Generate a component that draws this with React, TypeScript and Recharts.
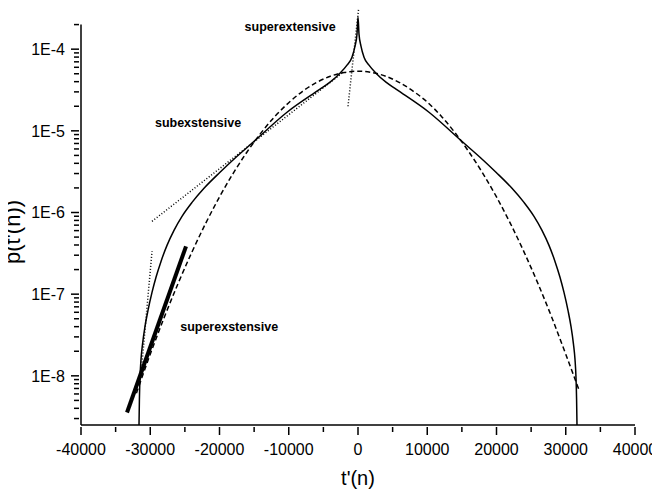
import React from "react";
import { LineChart, Line, XAxis, YAxis, ReferenceLine, ReferenceDot } from "recharts";

// [t'(n), p] pairs
const solidCurve: [number, number][] = [
  [-31624, 2.5e-9], [-31566, 5.1e-9], [-31480, 9.5e-9], [-31335, 1.59e-8],
  [-31118, 2.43e-8], [-30757, 4.03e-8], [-30324, 6.33e-8], [-29746, 1.05e-7],
  [-29169, 1.61e-7], [-28447, 2.52e-7], [-27580, 3.96e-7], [-26570, 6.05e-7],
  [-25414, 8.98e-7], [-23970, 1.33e-6], [-22238, 1.98e-6], [-19927, 3.11e-6],
  [-17617, 4.75e-6], [-15162, 7.24e-6], [-10250, 1.69e-5], [-5490, 3.24e-5],
  [-4040, 3.94e-5], [-2600, 5.08e-5], [-1590, 6.37e-5], [-870, 7.97e-5],
  [-430, 1.09e-4], [-144, 1.53e-4], [0, 2.47e-4],
  [144, 1.53e-4], [430, 1.09e-4], [870, 7.97e-5], [1590, 6.37e-5],
  [2600, 5.08e-5], [4040, 3.94e-5], [5490, 3.24e-5], [10250, 1.69e-5],
  [15162, 7.24e-6], [17617, 4.75e-6], [19927, 3.11e-6], [22238, 1.98e-6],
  [23970, 1.33e-6], [25414, 8.98e-7], [26570, 6.05e-7], [27580, 3.96e-7],
  [28447, 2.52e-7], [29169, 1.61e-7], [29746, 1.05e-7], [30324, 6.33e-8],
  [30757, 4.03e-8], [31118, 2.43e-8], [31335, 1.59e-8], [31480, 9.5e-9],
  [31566, 5.1e-9], [31624, 2.5e-9],
];

const dashedCurve: [number, number][] = [
  [-32000, 6.1e-9], [-30000, 1.84e-8], [-28000, 5.15e-8], [-26000, 1.34e-7],
  [-24000, 3.25e-7], [-22000, 7.36e-7], [-20000, 1.55e-6], [-18000, 3.04e-6],
  [-16000, 5.55e-6], [-14000, 9.45e-6], [-12000, 1.5e-5], [-10000, 2.21e-5],
  [-8000, 3.05e-5], [-6000, 3.9e-5], [-4000, 4.66e-5], [-2000, 5.18e-5],
  [0, 5.37e-5], [2000, 5.18e-5], [4000, 4.66e-5], [6000, 3.9e-5],
  [8000, 3.05e-5], [10000, 2.25e-5], [12000, 1.52e-5], [14000, 9.5e-6],
  [16000, 5.55e-6], [18000, 3.04e-6], [20000, 1.55e-6], [22000, 7.36e-7],
  [24000, 3.25e-7], [26000, 1.34e-7], [28000, 5.15e-8], [30000, 1.84e-8],
  [32000, 6.4e-9],
];

// dotted tangents
const peakTangent: [number, number][] = [[-1444, 2.0e-5], [144, 3.46e-4]];
const bodyTangent: [number, number][] = [[-29746, 7.8e-7], [-2310, 5.08e-5]];
const tailTangent: [number, number][] = [[-31335, 1.04e-8], [-29746, 3.35e-7]];

// thick fit line on the left tail
const tailFit: [number, number][] = [[-33356, 3.56e-9], [-24837, 3.85e-7]];

const xTicks = [-40000, -35000, -30000, -25000, -20000, -15000, -10000, -5000, 0,
  5000, 10000, 15000, 20000, 25000, 30000, 35000, 40000];

const yMajor = [1e-8, 1e-7, 1e-6, 1e-5, 1e-4];
const yMajorLabels = ["1E-8", "1E-7", "1E-6", "1E-5", "1E-4"];
const yMinor = [
  3e-9, 4e-9, 5e-9, 6e-9, 7e-9, 8e-9, 9e-9,
  2e-8, 3e-8, 4e-8, 5e-8, 6e-8, 7e-8, 8e-8, 9e-8,
  2e-7, 3e-7, 4e-7, 5e-7, 6e-7, 7e-7, 8e-7, 9e-7,
  2e-6, 3e-6, 4e-6, 5e-6, 6e-6, 7e-6, 8e-6, 9e-6,
  2e-5, 3e-5, 4e-5, 5e-5, 6e-5, 7e-5, 8e-5, 9e-5,
  2e-4,
];

const toRows = (pts: [number, number][]) => pts.map(([t, p]) => ({ t, p }));

const FONT = "'Liberation Sans', Arial, sans-serif";

const XTick = (props: any) => {
  const { x, y, payload } = props;
  const major = payload.value % 10000 === 0;
  return (
    <g>
      <line x1={x} x2={x} y1={y} y2={y + (major ? 8 : 5)} stroke="#000" strokeWidth={1.5} />
      {major && (
        <text x={x} y={y + 28} textAnchor="middle" fontSize={16} fontFamily={FONT} fill="#000">
          {payload.value}
        </text>
      )}
    </g>
  );
};

const YTick = (props: any) => {
  const { x, y, payload } = props;
  const idx = yMajor.findIndex((v) => Math.abs(Math.log10(v) - Math.log10(payload.value)) < 1e-6);
  const major = idx >= 0;
  return (
    <g>
      <line x1={x} x2={x - (major ? 8 : 5)} y1={y} y2={y} stroke="#000" strokeWidth={1.5} />
      {major && (
        <text x={x - 14} y={y} dy="0.36em" textAnchor="end" fontSize={16} fontFamily={FONT} fill="#000">
          {yMajorLabels[idx]}
        </text>
      )}
    </g>
  );
};

const note = (value: string) => ({
  value,
  position: "center" as const,
  fill: "#000",
  fontSize: 12.5,
  fontWeight: "bold",
  fontFamily: FONT,
});

export default function App() {
  return (
    <div style={{ margin: "-8px 0 0 -8px", background: "#fff", width: 660, height: 492 }}>
      <LineChart width={660} height={492} margin={{ top: 0, right: 25, bottom: 0, left: 0 }}>
        <XAxis
          dataKey="t"
          type="number"
          domain={[-40000, 40000]}
          ticks={xTicks}
          interval={0}
          height={67}
          tickSize={0}
          tickLine={false}
          axisLine={{ stroke: "#000", strokeWidth: 1.5 }}
          tick={(p: any) => <XTick {...p} />}
          label={{
            value: "t'(n)",
            position: "insideBottom",
            offset: 7,
            fontSize: 20,
            fontFamily: FONT,
            fill: "#000",
          }}
        />
        <YAxis
          dataKey="p"
          type="number"
          scale="log"
          domain={[2.5e-9, 4e-4]}
          ticks={[...yMinor, ...yMajor].sort((a, b) => a - b)}
          interval={0}
          width={81}
          tickSize={0}
          tickLine={false}
          axisLine={false}
          tick={(p: any) => <YTick {...p} />}
          label={{
            content: (lp: any) => {
              const vb = lp.viewBox;
              const cx = vb.x + 20;
              const cy = 232;
              return (
                <text
                  x={0}
                  y={0}
                  transform={`translate(${cx},${cy}) rotate(-90)`}
                  textAnchor="middle"
                  fontSize={22}
                  fontFamily={FONT}
                  fill="#000"
                >
                  p(t'(n))
                </text>
              );
            },
          }}
        />
        <ReferenceLine
          segment={[{ x: -40000, y: 2.5e-9 }, { x: -40000, y: 2e-4 }]}
          stroke="#000"
          strokeWidth={1.5}
          ifOverflow="visible"
        />
        <Line data={toRows(solidCurve)} dataKey="p" type="monotone" stroke="#000" strokeWidth={1.5} dot={false} isAnimationActive={false} />
        <Line data={toRows(dashedCurve)} dataKey="p" type="monotone" stroke="#000" strokeWidth={1.5} strokeDasharray="5 3" dot={false} isAnimationActive={false} />
        <Line data={toRows(peakTangent)} dataKey="p" type="linear" stroke="#000" strokeWidth={1.5} strokeDasharray="1 2" dot={false} isAnimationActive={false} />
        <Line data={toRows(bodyTangent)} dataKey="p" type="linear" stroke="#000" strokeWidth={1.5} strokeDasharray="1 2" dot={false} isAnimationActive={false} />
        <Line data={toRows(tailTangent)} dataKey="p" type="linear" stroke="#000" strokeWidth={1.5} strokeDasharray="1 2" dot={false} isAnimationActive={false} />
        <Line data={toRows(tailFit)} dataKey="p" type="linear" stroke="#000" strokeWidth={4} dot={false} isAnimationActive={false} />
        <ReferenceDot x={-9800} y={1.91e-4} r={0} fill="none" stroke="none" label={note("superextensive")} />
        <ReferenceDot x={-23100} y={1.27e-5} r={0} fill="none" stroke="none" label={note("subexstensive")} />
        <ReferenceDot x={-18600} y={4.03e-8} r={0} fill="none" stroke="none" label={note("superexstensive")} />
      </LineChart>
    </div>
  );
}
